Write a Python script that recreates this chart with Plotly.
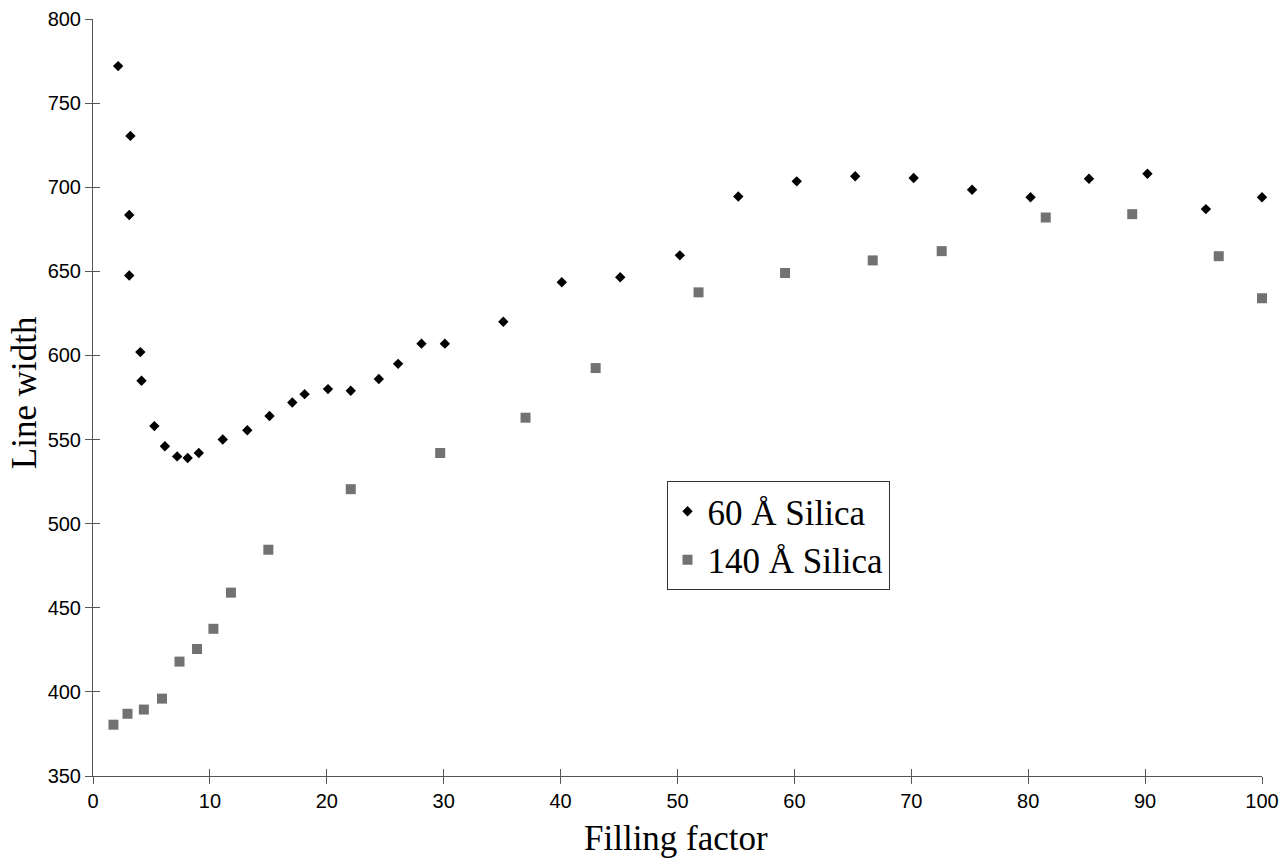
import plotly.graph_objects as go

# 60 Å Silica (diamonds)
x60 = [2.15, 3.2, 3.1, 3.1, 4.05, 4.15, 5.25, 6.15, 7.2, 8.1, 9.05, 11.1, 13.2, 15.1,
       17.05, 18.1, 20.1, 22.05, 24.45, 26.1, 28.1, 30.1, 35.1, 40.1, 45.1, 50.2,
       55.2, 60.2, 65.2, 70.2, 75.2, 80.2, 85.2, 90.2, 95.2, 100.0]
y60 = [772, 730.5, 683.5, 647.5, 602, 585, 558, 546, 540, 539, 542, 550, 555.5, 564,
       572, 577, 580, 579, 586, 595, 607, 607, 620, 643.5, 646.5, 659.5,
       694.5, 703.5, 706.5, 705.5, 698.5, 694, 705, 708, 687, 694]

# 140 Å Silica (squares)
x140 = [1.75, 2.95, 4.35, 5.9, 7.4, 8.9, 10.3, 11.8, 15.0, 22.05, 29.7, 37.0, 43.0,
        51.8, 59.2, 66.7, 72.6, 81.5, 88.9, 96.3, 100.0]
y140 = [380.5, 387, 389.5, 396, 418, 425.5, 437.5, 459, 484.5, 520.5, 542, 563, 592.5,
        637.5, 649, 656.5, 662, 682, 684, 659, 634]

x_ticks = [0, 10, 20, 30, 40, 50, 60, 70, 80, 90, 100]
y_ticks = [350, 400, 450, 500, 550, 600, 650, 700, 750, 800]

serif = "Liberation Serif, Times New Roman, serif"
sans = "Liberation Sans, Arial, sans-serif"
axcol = "#555555"

fig = go.Figure()
fig.add_trace(go.Scatter(
    x=x60, y=y60, mode="markers", name="60 Å Silica",
    marker=dict(symbol="diamond", size=8, color="black", line=dict(width=0)),
    cliponaxis=False))
fig.add_trace(go.Scatter(
    x=x140, y=y140, mode="markers", name="140 Å Silica",
    marker=dict(symbol="square", size=10, color="#727272", line=dict(width=0)),
    cliponaxis=False))

common_x = dict(range=[0, 100], tickvals=x_ticks, showgrid=False, zeroline=False,
                linecolor=axcol, linewidth=1, tickcolor=axcol, ticklen=7, tickwidth=1,
                automargin=False)
common_y = dict(range=[350, 800], tickvals=y_ticks, showgrid=False, zeroline=False,
                linecolor=axcol, linewidth=1, tickcolor=axcol, ticklen=7, tickwidth=1,
                automargin=False)

fig.update_layout(
    width=1283, height=858,
    margin=dict(l=93, r=21, t=19, b=82, autoexpand=False),
    paper_bgcolor="white", plot_bgcolor="white",
    xaxis=dict(**common_x, showline=True, ticks="outside",
               tickfont=dict(family=sans, size=20, color="black")),
    yaxis=dict(**common_y, showline=True, ticks="outside",
               tickfont=dict(family=sans, size=20, color="black")),
    xaxis2=dict(**common_x, overlaying="x", showline=False, ticks="inside",
                showticklabels=False, side="bottom", anchor="y"),
    yaxis2=dict(**common_y, overlaying="y", showline=False, ticks="inside",
                showticklabels=False, side="left", anchor="x"),
    legend=dict(x=0.4906, y=0.3897, xanchor="left", yanchor="top",
                bgcolor="white", bordercolor="#333333", borderwidth=1,
                font=dict(family=serif, size=35, color="black"),
                itemsizing="trace", tracegroupgap=0),
    showlegend=True,
    annotations=[
        dict(text="Line width", xref="paper", yref="paper", x=-0.058, y=0.506,
             textangle=-90, showarrow=False, xanchor="center", yanchor="middle",
             font=dict(family=serif, size=35, color="black")),
        dict(text="Filling factor", xref="paper", yref="paper", x=0.499, y=-0.082,
             showarrow=False, xanchor="center", yanchor="middle",
             font=dict(family=serif, size=35, color="black")),
    ],
)

# invisible trace to activate the overlay axes carrying the crossing tick halves
fig.add_trace(go.Scatter(x=[None], y=[None], xaxis="x2", yaxis="y2",
                         showlegend=False, hoverinfo="skip"))

fig.write_html("out.html", config={"displayModeBar": False},
               post_script="document.body.style.margin='0px';"
                           "document.body.style.overflow='hidden';")
